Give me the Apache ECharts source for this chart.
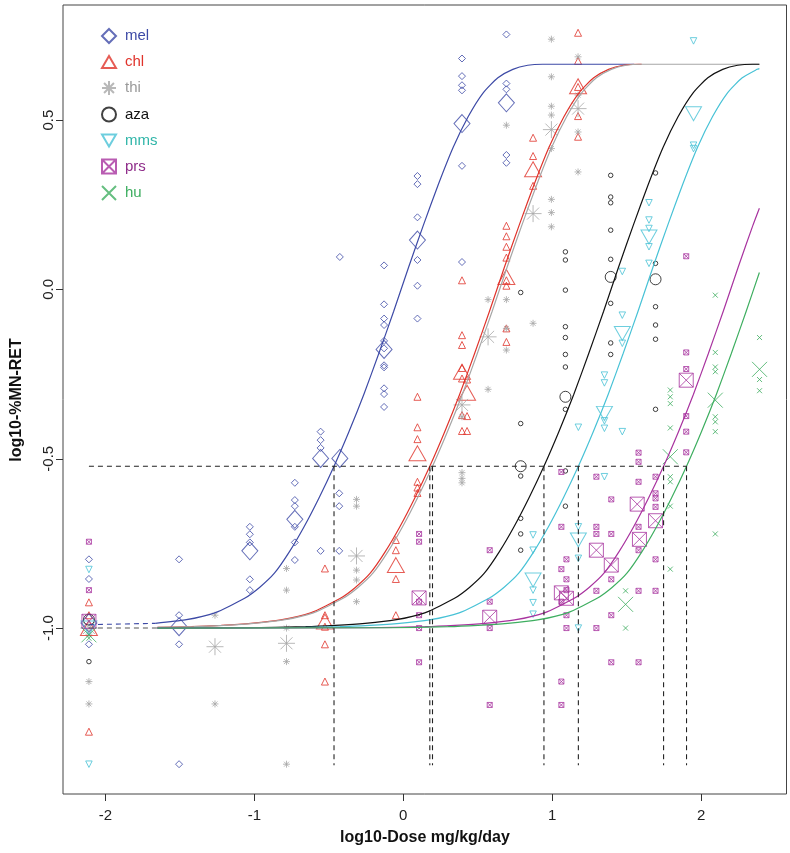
<!DOCTYPE html>
<html>
<head>
<meta charset="utf-8">
<script src="https://cdn.jsdelivr.net/npm/echarts@6/dist/echarts.min.js"></script>
<style>html,body{margin:0;padding:0;background:#fff}#c{width:790px;height:853px}</style>
</head>
<body>
<div id="c"></div>
<script>
// ---------- tick labels ----------
const xTicks = [-2, -1, 0, 1, 2];
const yTicks = [-1.0, -0.5, 0.0, 0.5];
const names = ['mel', 'chl', 'thi', 'aza', 'mms', 'prs', 'hu'];

// ---------- individual values [log10 dose, log10 %MN-RET] ----------
const melPts = [[-2.11,-0.797],[-2.11,-0.855],[-2.11,-1.048],
 [-1.505,-0.797],[-1.505,-0.962],[-1.505,-1.048],[-1.505,-1.402],
 [-1.03,-0.701],[-1.03,-0.723],[-1.03,-0.747],[-1.03,-0.856],[-1.03,-0.888],
 [-0.728,-0.571],[-0.728,-0.622],[-0.728,-0.640],[-0.728,-0.701],[-0.728,-0.747],[-0.728,-0.799],
 [-0.555,-0.420],[-0.555,-0.445],[-0.555,-0.468],[-0.555,-0.772],
 [-0.43,-0.602],[-0.43,-0.640],[-0.43,-0.772],[-0.426,0.096],
 [-0.129,0.071],[-0.129,-0.044],[-0.129,-0.086],[-0.129,-0.105],[-0.129,-0.152],[-0.129,-0.174],[-0.129,-0.224],[-0.129,-0.230],[-0.129,-0.292],[-0.129,-0.309],[-0.129,-0.347],
 [0.095,0.335],[0.095,0.311],[0.095,0.213],[0.095,0.087],[0.095,0.011],[0.095,-0.086],
 [0.394,0.682],[0.394,0.630],[0.394,0.603],[0.394,0.588],[0.394,0.365],[0.394,0.081],
 [0.692,0.753],[0.692,0.608],[0.692,0.591],[0.692,0.397],[0.692,0.374]];
const chlPts = [[-2.11,-0.924],[-2.11,-1.306],[-2.11,-0.962],
 [-0.526,-0.824],[-0.526,-0.962],[-0.526,-0.996],[-0.526,-1.048],[-0.526,-1.158],
 [-0.05,-0.740],[-0.05,-0.770],[-0.05,-0.855],[-0.05,-0.962],
 [0.095,-0.317],[0.095,-0.407],[0.095,-0.442],[0.095,-0.568],[0.095,-0.585],[0.095,-0.601],
 [0.394,-0.135],[0.394,-0.164],[0.394,-0.232],[0.394,-0.263],[0.394,-0.371],[0.394,-0.418],[0.394,0.027],
 [0.428,-0.266],[0.428,-0.374],[0.428,-0.418],
 [0.692,0.188],[0.692,0.157],[0.692,0.126],[0.692,0.094],[0.692,0.027],[0.692,0.011],[0.692,-0.115],[0.692,-0.155],
 [0.871,0.448],[0.871,0.394],[0.871,0.306],
 [1.173,0.758],[1.173,0.675],[1.173,0.598],[1.173,0.512],[1.173,0.451]];
const thiPts = [[-2.11,-1.158],[-2.11,-1.224],[-2.11,-1.018],
 [-1.264,-0.962],[-1.264,-1.224],
 [-0.784,-0.824],[-0.784,-0.888],[-0.784,-1.0],[-0.784,-1.099],[-0.784,-1.402],
 [-0.314,-0.620],[-0.314,-0.640],[-0.314,-0.829],[-0.314,-0.858],[-0.314,-0.922],
 [0.394,-0.376],[0.394,-0.541],[0.394,-0.558],[0.394,-0.571],
 [0.569,-0.030],[0.569,-0.295],
 [0.692,-0.030],[0.692,-0.115],[0.692,-0.179],[0.692,0.485],
 [0.871,-0.100],
 [0.994,0.739],[0.994,0.628],[0.994,0.541],[0.994,0.515],[0.994,0.416],[0.994,0.266],[0.994,0.227],[0.994,0.185],
 [1.173,0.687],[1.173,0.574],[1.173,0.465],[1.173,0.347]];
const azaPts = [[-2.11,-1.099],
 [0.788,-0.009],[0.788,-0.396],[0.788,-0.551],[0.788,-0.676],[0.788,-0.722],[0.788,-0.770],
 [1.088,0.111],[1.088,0.087],[1.088,-0.002],[1.088,-0.110],[1.088,-0.142],[1.088,-0.192],[1.088,-0.229],[1.088,-0.354],[1.088,-0.536],[1.088,-0.640],
 [1.392,0.337],[1.392,0.273],[1.392,0.256],[1.392,0.175],[1.392,0.089],[1.392,-0.041],[1.392,-0.158],[1.392,-0.192],
 [1.693,0.344],[1.693,0.077],[1.693,-0.051],[1.693,-0.105],[1.693,-0.147],[1.693,-0.354]];
const mmsPts = [[-2.11,-0.827],[-2.11,-1.402],
 [0.871,-0.725],[0.871,-0.770],[0.871,-0.888],[0.871,-0.925],[0.871,-0.959],
 [1.175,-0.407],[1.175,-0.701],[1.175,-0.794],[1.175,-1.0],
 [1.35,-0.253],[1.35,-0.276],[1.35,-0.388],[1.35,-0.410],[1.35,-0.553],
 [1.47,0.053],[1.47,-0.076],[1.47,-0.159],[1.47,-0.420],
 [1.649,0.256],[1.649,0.205],[1.649,0.180],[1.649,0.126],[1.649,0.077],
 [1.948,0.734],[1.948,0.426],[1.948,0.416]];
const prsPts = [[-2.11,-0.745],[-2.11,-0.888],
 [0.106,-0.722],[0.106,-0.745],[0.106,-0.922],[0.106,-0.962],[0.106,-1.0],[0.106,-1.101],
 [0.580,-0.770],[0.580,-0.922],[0.580,-1.0],[0.580,-1.227],
 [1.061,-0.539],[1.061,-0.701],[1.061,-0.826],[1.061,-0.922],[1.061,-1.158],[1.061,-1.227],
 [1.095,-0.797],[1.095,-0.856],[1.095,-0.888],[1.095,-0.962],[1.095,-1.0],
 [1.296,-0.553],[1.296,-0.701],[1.296,-0.722],[1.296,-0.890],[1.296,-1.0],
 [1.396,-0.620],[1.396,-0.722],[1.396,-0.856],[1.396,-0.962],[1.396,-1.101],
 [1.579,-0.482],[1.579,-0.509],[1.579,-0.568],[1.579,-0.701],[1.579,-0.770],[1.579,-0.890],[1.579,-1.101],
 [1.693,-0.553],[1.693,-0.602],[1.693,-0.617],[1.693,-0.642],[1.693,-0.797],[1.693,-0.890],
 [1.899,0.098],[1.899,-0.186],[1.899,-0.235],[1.899,-0.374],[1.899,-0.420],[1.899,-0.481]];
const huPts = [[-2.11,-1.03],
 [1.492,-0.890],[1.492,-1.0],
 [1.792,-0.297],[1.792,-0.317],[1.792,-0.337],[1.792,-0.409],[1.792,-0.553],[1.792,-0.568],[1.792,-0.640],[1.792,-0.826],
 [2.094,-0.017],[2.094,-0.186],[2.094,-0.229],[2.094,-0.243],[2.094,-0.376],[2.094,-0.391],[2.094,-0.420],[2.094,-0.722],
 [2.391,-0.142],[2.391,-0.266],[2.391,-0.299]];

// ---------- group means ----------
const melMean = [[-2.11,-0.985],[-1.505,-0.996],[-1.03,-0.772],[-0.728,-0.679],[-0.555,-0.499],[-0.426,-0.499],[-0.129,-0.177],[0.095,0.146],[0.394,0.490],[0.692,0.551]];
const chlMean = [[-2.11,-1.0],[-0.526,-0.981],[-0.05,-0.814],[0.095,-0.484],[0.394,-0.243],[0.428,-0.305],[0.692,0.037],[0.871,0.355],[1.173,0.600]];
const thiMean = [[-2.11,-1.0],[-1.264,-1.055],[-0.784,-1.045],[-0.314,-0.787],[0.394,-0.341],[0.569,-0.140],[0.871,0.224],[0.994,0.472],[1.173,0.534]];
const azaMean = [[-2.11,-0.975],[0.788,-0.522],[1.088,-0.317],[1.392,0.037],[1.693,0.030]];
const mmsMean = [[-2.11,-1.0],[0.871,-0.858],[1.175,-0.740],[1.35,-0.366],[1.47,-0.130],[1.649,0.155],[1.948,0.519]];
const prsMean = [[-2.11,-0.98],[0.106,-0.911],[0.580,-0.968],[1.061,-0.896],[1.095,-0.912],[1.296,-0.770],[1.396,-0.814],[1.57,-0.634],[1.585,-0.738],[1.693,-0.683],[1.899,-0.268]];
const huMean = [[-2.11,-1.02],[1.492,-0.930],[1.792,-0.494],[2.094,-0.327],[2.391,-0.236]];

// ---------- fitted curves ----------
const melFit = [[-1.665,-0.986],[-1.465,-0.976],[-1.265,-0.955],[-1.065,-0.912],[-0.965,-0.88],[-0.865,-0.838],[-0.765,-0.775],[-0.665,-0.70],[-0.565,-0.615],[-0.465,-0.522],[-0.365,-0.42],[-0.265,-0.31],[-0.165,-0.19],[-0.065,-0.065],[0.035,0.065],[0.135,0.19],[0.235,0.31],[0.335,0.42],[0.435,0.51],[0.535,0.58],[0.635,0.625],[0.735,0.65],[0.835,0.662],[0.935,0.665],[1.55,0.665]];
const chlFit = [[-1.65,-0.998],[-1.422,-0.996],[-1.222,-0.992],[-1.022,-0.986],[-0.822,-0.976],[-0.622,-0.955],[-0.422,-0.912],[-0.322,-0.88],[-0.222,-0.838],[-0.122,-0.775],[-0.022,-0.70],[0.078,-0.615],[0.178,-0.522],[0.278,-0.42],[0.378,-0.31],[0.478,-0.19],[0.578,-0.065],[0.678,0.065],[0.778,0.19],[0.878,0.31],[0.978,0.42],[1.078,0.51],[1.178,0.58],[1.278,0.625],[1.378,0.65],[1.478,0.662],[1.578,0.665],[1.60,0.665]];
const thiFit = [[-1.65,-0.998],[-1.404,-0.996],[-1.204,-0.992],[-1.004,-0.986],[-0.804,-0.976],[-0.604,-0.955],[-0.404,-0.912],[-0.304,-0.88],[-0.204,-0.838],[-0.104,-0.775],[-0.004,-0.70],[0.096,-0.615],[0.196,-0.522],[0.296,-0.42],[0.396,-0.31],[0.496,-0.19],[0.596,-0.065],[0.696,0.065],[0.796,0.19],[0.896,0.31],[0.996,0.42],[1.096,0.51],[1.196,0.58],[1.296,0.625],[1.396,0.65],[1.496,0.662],[1.596,0.665],[2.39,0.665]];
const azaFit = [[-1.65,-1.0],[-1.056,-0.999],[-0.656,-0.996],[-0.456,-0.992],[-0.256,-0.986],[-0.056,-0.976],[0.144,-0.955],[0.344,-0.912],[0.444,-0.88],[0.544,-0.838],[0.644,-0.775],[0.744,-0.70],[0.844,-0.615],[0.944,-0.522],[1.044,-0.42],[1.144,-0.31],[1.244,-0.19],[1.344,-0.065],[1.444,0.065],[1.544,0.19],[1.644,0.31],[1.744,0.42],[1.844,0.51],[1.944,0.58],[2.044,0.625],[2.144,0.65],[2.244,0.662],[2.344,0.665],[2.39,0.665]];
const mmsFit = [[-1.65,-1.0],[-0.825,-0.999],[-0.425,-0.996],[-0.225,-0.992],[-0.025,-0.986],[0.175,-0.976],[0.375,-0.955],[0.575,-0.912],[0.675,-0.88],[0.775,-0.838],[0.875,-0.775],[0.975,-0.70],[1.075,-0.615],[1.175,-0.522],[1.275,-0.42],[1.375,-0.31],[1.475,-0.19],[1.575,-0.065],[1.675,0.065],[1.775,0.19],[1.875,0.31],[1.975,0.42],[2.075,0.51],[2.175,0.58],[2.275,0.625],[2.375,0.65],[2.39,0.652]];
const prsFit = [[-1.65,-1.0],[-0.253,-0.999],[0.147,-0.996],[0.347,-0.992],[0.547,-0.986],[0.747,-0.976],[0.947,-0.955],[1.147,-0.912],[1.247,-0.88],[1.347,-0.838],[1.447,-0.775],[1.547,-0.70],[1.647,-0.615],[1.747,-0.522],[1.847,-0.42],[1.947,-0.31],[2.047,-0.19],[2.147,-0.065],[2.247,0.065],[2.347,0.19],[2.39,0.24]];
const huFit = [[-1.65,-1.0],[-0.099,-0.999],[0.301,-0.996],[0.501,-0.992],[0.701,-0.986],[0.901,-0.976],[1.101,-0.955],[1.301,-0.912],[1.401,-0.88],[1.501,-0.838],[1.601,-0.775],[1.701,-0.70],[1.801,-0.615],[1.901,-0.522],[2.001,-0.42],[2.101,-0.31],[2.201,-0.19],[2.301,-0.065],[2.39,0.05]];

// ---------- reference (dashed) lines ----------
const critY = -0.522;          // horizontal dashed level
const dropY = -1.405;          // lower end of vertical dashed lines
const bmdX = [-0.465, 0.178, 0.196, 0.944, 1.175, 1.747, 1.901];
const ctrlX = -2.11;
const melCtrlDash = [[-2.11,-0.99],[-1.665,-0.986]];
const otherCtrlDash = [[-2.11,-1.0],[-1.65,-1.0]];

// ---------- styling ----------
const colors = ['#3d4aa6', '#e0332b', '#a6a6a6', '#111111', '#48c2d6', '#a8339f', '#3eae60'];
const textColors = ['#3d4aa6', '#e0332b', '#9a9a9a', '#111111', '#2fb5a8', '#8f2d8a', '#3eae60'];
const SYM = {
  diamond: 'path://M0,-1 L1,0 L0,1 L-1,0 Z',
  tri: 'path://M0,-0.866 L1,0.866 L-1,0.866 Z',
  star: 'path://M0,-1 L0,1 M-1,0 L1,0 M-0.707,-0.707 L0.707,0.707 M-0.707,0.707 L0.707,-0.707',
  circle: 'circle',
  dtri: 'path://M-1,-0.866 L1,-0.866 L0,0.866 Z',
  boxx: 'path://M0,0 L1,0 L1,1 L0,1 Z M0,0 L1,1 M1,0 L0,1',
  cross: 'path://M0,0 L1,1 M1,0 L0,1'
};
const symbols = [SYM.diamond, SYM.tri, SYM.star, SYM.circle, SYM.dtri, SYM.boxx, SYM.cross];
const smallSize = [7, 7, 7, 4.5, 6.5, 5, 5];
const bigSize = [[16,18], [17,15], 17, 11, [16,14], 14, 15];
const ptsAll = [melPts, chlPts, thiPts, azaPts, mmsPts, prsPts, huPts];
const meanAll = [melMean, chlMean, thiMean, azaMean, mmsMean, prsMean, huMean];
const fitAll = [melFit, chlFit, thiFit, azaFit, mmsFit, prsFit, huFit];

const FONT = "'Liberation Sans Narrow','Arial Narrow','Liberation Sans',Arial,sans-serif";

const series = [];
names.forEach((n, i) => {
  series.push({
    name: n, type: 'scatter', data: meanAll[i], symbol: symbols[i], symbolSize: bigSize[i], z: 3,
    itemStyle: { color: 'rgba(0,0,0,0)', borderColor: colors[i], borderWidth: 1 },
    emphasis: { disabled: true }, silent: true
  });
  series.push({
    name: n + '-pts', type: 'scatter', data: ptsAll[i], symbol: symbols[i], symbolSize: smallSize[i], z: 2,
    itemStyle: { color: 'rgba(0,0,0,0)', borderColor: colors[i], borderWidth: 1 },
    emphasis: { disabled: true }, silent: true
  });
  series.push({
    name: n + '-fit', type: 'line', data: fitAll[i], showSymbol: false, smooth: 0.2, z: 4,
    lineStyle: { color: colors[i], width: 1.2 }, silent: true
  });
});
const dashStyle = { color: '#222', width: 1.1, type: [5, 4] };
series.push({ name: 'crit', type: 'line', data: [[ctrlX, critY], [bmdX[bmdX.length - 1], critY]], showSymbol: false, lineStyle: dashStyle, z: 5, silent: true });
bmdX.forEach((bx, k) => {
  series.push({ name: 'bmd' + k, type: 'line', data: [[bx, critY], [bx, dropY]], showSymbol: false, lineStyle: dashStyle, z: 5, silent: true });
});
series.push({ name: 'melctrl', type: 'line', data: melCtrlDash, showSymbol: false, lineStyle: { color: colors[0], width: 1.1, type: [5, 4] }, z: 4, silent: true });
series.push({ name: 'ctrl', type: 'line', data: otherCtrlDash, showSymbol: false, lineStyle: { color: '#555', width: 1.1, type: [5, 4] }, z: 4, silent: true });

const chart = echarts.init(document.getElementById('c'), null, { renderer: 'canvas' });
chart.setOption({
  animation: false,
  backgroundColor: '#fff',
  textStyle: { fontFamily: FONT },
  grid: { left: 63, right: 3.5, top: 5, bottom: 59, show: true, borderColor: '#444', borderWidth: 1, backgroundColor: 'transparent' },
  xAxis: {
    type: 'value', min: -2.284, max: 2.572,
    axisLine: { show: false, onZero: false }, splitLine: { show: false },
    axisTick: { show: true, length: 7, customValues: xTicks, lineStyle: { color: '#333' } },
    axisLabel: { customValues: xTicks, margin: 14, fontSize: 15, color: '#222', fontFamily: FONT, formatter: v => String(v) }
  },
  yAxis: {
    type: 'value', min: -1.49, max: 0.84,
    axisLine: { show: false, onZero: false }, splitLine: { show: false },
    axisTick: { show: true, length: 7, customValues: yTicks, lineStyle: { color: '#333' } },
    axisLabel: { customValues: yTicks, margin: 7, rotate: 90, fontSize: 15, color: '#222', fontFamily: FONT, formatter: v => v.toFixed(1) }
  },
  legend: {
    orient: 'vertical', left: 101, top: 28, itemWidth: 14, itemHeight: 14, itemGap: 10.5, padding: 0,
    selectedMode: false,
    textStyle: { fontSize: 15, fontFamily: FONT, lineHeight: 14 },
    data: names.map((n, i) => ({ name: n, icon: symbols[i], textStyle: { color: textColors[i], fontSize: 15, lineHeight: 14, padding: [0, 0, 0, 4] } }))
  },
  graphic: [
    { type: 'text', x: 425, y: 838, style: { text: 'log10-Dose mg/kg/day', font: "bold 16px " + FONT, fill: '#111', textAlign: 'center', textVerticalAlign: 'middle' } },
    { type: 'text', x: 17, y: 400, rotation: Math.PI / 2, style: { text: 'log10-%MN-RET', font: "bold 16px " + FONT, fill: '#111', textAlign: 'center', textVerticalAlign: 'middle' } }
  ],
  series: series
});
</script>
</body>
</html>
